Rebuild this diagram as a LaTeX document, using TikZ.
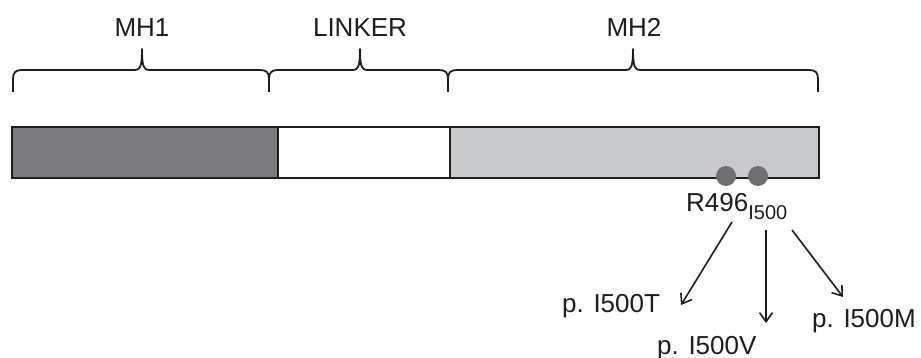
\documentclass[tikz,border=0pt]{standalone}
\usepackage{fontspec}
\setmainfont{Liberation Sans}
\usetikzlibrary{arrows.meta}
\definecolor{darkseg}{HTML}{7C7B7F}
\definecolor{lightseg}{HTML}{C8C9CB}
\definecolor{dotgray}{HTML}{707073}
\definecolor{ink}{HTML}{1E1E1E}
\newcommand\mybrace[3]{\draw[braceline] (#1,92) -- (#1,79) .. controls (#1,72.5) and (#1+2.5,70) .. (#1+9,70) -- (#2-7,70) .. controls (#2-2,70) and (#2,67) .. (#2,49) .. controls (#2,67) and (#2+2,70) .. (#2+7,70) -- (#3-9,70) .. controls (#3-2.5,70) and (#3,72.5) .. (#3,79) -- (#3,92);}
\tikzset{
  braceline/.style={draw=ink, line width=1.8pt, line join=round},
  seg/.style={draw=ink, line width=1.6pt, inner sep=0pt, outer sep=0pt},
  lbl/.style={inner sep=0pt, anchor=base, font=\fontsize{26}{30}\selectfont, text=ink},
  lblw/.style={inner sep=0pt, anchor=base west, font=\fontsize{26}{30}\selectfont, text=ink},
  dot/.style={circle, fill=dotgray, minimum size=20pt, inner sep=0pt},
  arr/.style={draw=ink, line width=1.6pt, -{Straight Barb[length=9pt,width=13pt,line width=1.6pt]}}
}
\begin{document}
\begin{tikzpicture}[x=1pt,y=-1pt]
\useasboundingbox (0,0) rectangle (921,358);
% labels
\node[lbl] (lmh1) at (142,37) {MH1};
\node[lbl] (llink) at (360,37) {LINKER};
\node[lbl] (lmh2) at (634,37) {MH2};
% braces
\mybrace{13}{142}{269}
\mybrace{269}{360}{448}
\mybrace{448}{633}{818}
% bar
\node[seg, fill=darkseg, minimum width=266pt, minimum height=51pt] (mh1) at (145,152.5) {};
\node[seg, fill=white, minimum width=172pt, minimum height=51pt] (link) at (364,152.5) {};
\node[seg, fill=lightseg, minimum width=369pt, minimum height=51pt] (mh2) at (634.5,152.5) {};
% dots
\node[dot] (d1) at (726,176) {};
\node[dot] (d2) at (758,176) {};
% residue label
\node[lblw] (res) at (686,212) {R496\raisebox{-8pt}{\fontsize{20}{20}\selectfont I500}};
% variants
\node[lblw] (vt) at (562,312) {p. I500T};
\node[lblw] (vv) at (657,354) {p. I500V};
\node[lblw] (vm) at (812,327) {p. I500M};
% arrows
\coordinate (a1s) at (732,222);
\coordinate (a1e) at (681,305);
\coordinate (a2s) at (766,230);
\coordinate (a2e) at (766,323);
\coordinate (a3s) at (792,230);
\coordinate (a3e) at (843,297);
\draw[arr] (a1s) -- (a1e);
\draw[arr] (a2s) -- (a2e);
\draw[arr] (a3s) -- (a3e);
\end{tikzpicture}
\end{document}
